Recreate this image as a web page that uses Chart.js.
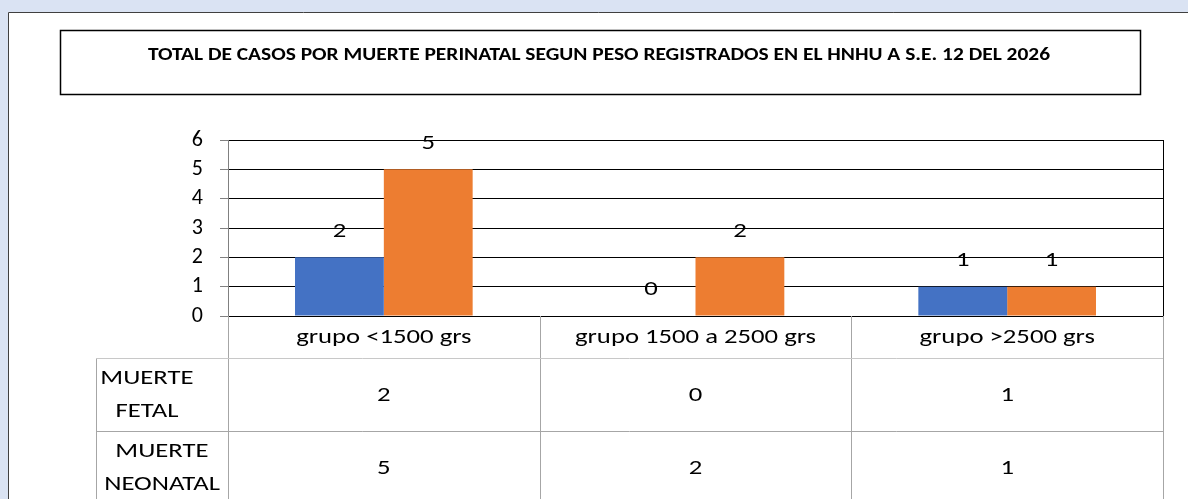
<!DOCTYPE html>
<html lang="es">
<head>
  <meta charset="UTF-8" />
  <title>Muerte perinatal segun peso</title>
  <script src="https://cdn.jsdelivr.net/npm/chart.js"></script>
  <style>
    html, body { margin: 0; padding: 0; background: #dae3f3; }
    #wrap { width: 1188px; height: 499px; }
  </style>
</head>
<body>
  <div id="wrap"><canvas id="chart" width="1188" height="499"></canvas></div>

  <script>
    const titleText = "TOTAL DE CASOS POR MUERTE PERINATAL SEGUN PESO REGISTRADOS EN EL HNHU A S.E. 12 DEL 2026";
    const categories = ["grupo <1500 grs", "grupo 1500 a 2500 grs", "grupo >2500 grs"];
    const seriesNames = [["MUERTE", "FETAL"], ["MUERTE", "NEONATAL"]];
    const muerteFetal = [2, 0, 1];
    const muerteNeonatal = [5, 2, 1];
    const yTicks = [0, 1, 2, 3, 4, 5, 6];

    const FONT = "Carlito, Lato, sans-serif";
    const TITLE_FONT = "bold 18.5px " + FONT;
    const BODY_FONT = "21px " + FONT;

    // the source picture is a bit wider than tall, so text is stretched sideways
    function stretchX(ctx, font, sample, target) {
      ctx.font = font;
      return target / ctx.measureText(sample).width;
    }
    function wideText(ctx, text, x, y, sx) {
      ctx.save();
      ctx.translate(x, y);
      ctx.scale(sx, 1);
      ctx.fillText(text, 0, 0);
      ctx.restore();
    }

    const sheetPlugin = {
      id: "sheet",
      beforeDraw(chart) {
        const ctx = chart.ctx;
        ctx.save();
        ctx.fillStyle = "#dae3f3";
        ctx.fillRect(0, 0, chart.width, chart.height);
        ctx.fillStyle = "#ffffff";
        ctx.fillRect(8, 12, chart.width, chart.height);
        ctx.strokeStyle = "#404040";
        ctx.lineWidth = 1;
        ctx.beginPath();
        ctx.moveTo(8.5, chart.height);
        ctx.lineTo(8.5, 12.5);
        ctx.lineTo(chart.width, 12.5);
        ctx.stroke();

        ctx.strokeStyle = "#000000";
        ctx.lineWidth = 1.5;
        ctx.strokeRect(60.5, 30.5, 1080, 64);
        ctx.fillStyle = "#000000";
        ctx.textAlign = "center";
        ctx.textBaseline = "middle";
        const sx = stretchX(ctx, TITLE_FONT, titleText, 902);
        wideText(ctx, titleText, 599, 55, sx);
        ctx.restore();
      },
      afterDraw(chart) {
        const ctx = chart.ctx;
        const area = chart.chartArea;
        const x = chart.scales.x;
        ctx.save();

        // right border of plot
        ctx.strokeStyle = "#000000";
        ctx.lineWidth = 1;
        ctx.beginPath();
        ctx.moveTo(Math.round(area.right) + 0.5, area.top);
        ctx.lineTo(Math.round(area.right) + 0.5, area.bottom);
        ctx.stroke();

        ctx.fillStyle = "#000000";
        ctx.textAlign = "center";
        ctx.textBaseline = "middle";
        const sx = stretchX(ctx, BODY_FONT, categories[1], 241);

        // value labels above bars
        chart.data.datasets.forEach((ds, di) => {
          chart.getDatasetMeta(di).data.forEach((bar, i) => {
            wideText(ctx, String(ds.data[i]), bar.x, bar.y - 26, sx);
          });
        });

        // data table
        const step = x.getPixelForValue(1) - x.getPixelForValue(0);
        const edges = categories.map((_, i) => x.getPixelForValue(i) - step / 2);
        edges.push(x.getPixelForValue(categories.length - 1) + step / 2);
        const top = area.bottom;
        const r1 = top + 42, r2 = r1 + 73, r3 = r2 + 73;
        const leftCol = 96;

        ctx.strokeStyle = "#a6a6a6";
        ctx.lineWidth = 1;
        ctx.beginPath();
        edges.forEach(e => {
          const ex = Math.round(e) + 0.5;
          ctx.moveTo(ex, top); ctx.lineTo(ex, r3);
        });
        ctx.moveTo(leftCol + 0.5, r1); ctx.lineTo(leftCol + 0.5, r3);
        [r2, r3].forEach(ry => {
          ctx.moveTo(leftCol, ry + 0.5); ctx.lineTo(edges[edges.length - 1], ry + 0.5);
        });
        ctx.stroke();
        ctx.strokeStyle = "#c8c8c8";
        ctx.beginPath();
        ctx.moveTo(leftCol, r1 + 0.5); ctx.lineTo(edges[edges.length - 1], r1 + 0.5);
        ctx.stroke();

        categories.forEach((c, i) => {
          const cx = x.getPixelForValue(i);
          wideText(ctx, c, cx, (top + r1) / 2 + 1, sx);
          wideText(ctx, String(muerteFetal[i]), cx, (r1 + r2) / 2 + 1, sx);
          wideText(ctx, String(muerteNeonatal[i]), cx, (r2 + r3) / 2 + 1, sx);
        });
        const rowCenters = [147, 162];
        [[r1, r2], [r2, r3]].forEach(([a, b], k) => {
          const mid = (a + b) / 2;
          wideText(ctx, seriesNames[k][0], rowCenters[k], mid - 16, sx);
          wideText(ctx, seriesNames[k][1], rowCenters[k], mid + 17, sx);
        });
        ctx.restore();
      }
    };

    new Chart(document.getElementById("chart"), {
      type: "bar",
      data: {
        labels: categories,
        datasets: [
          { label: seriesNames[0].join(" "), data: muerteFetal, backgroundColor: "#4472c4" },
          { label: seriesNames[1].join(" "), data: muerteNeonatal, backgroundColor: "#ed7d31" }
        ]
      },
      options: {
        responsive: false,
        animation: false,
        layout: { padding: { left: 150, right: 25, top: 140, bottom: 183 } },
        datasets: { bar: { categoryPercentage: 0.57, barPercentage: 1.0 } },
        plugins: { legend: { display: false }, title: { display: false }, tooltip: { enabled: false } },
        scales: {
          x: { display: false },
          y: {
            min: yTicks[0], max: yTicks[yTicks.length - 1],
            afterFit: s => { s.width = 78; },
            afterBuildTicks: s => { s.ticks = yTicks.map(v => ({ value: v })); },
            border: { color: "#808080", width: 1 },
            grid: { color: "#000000", lineWidth: 1, tickColor: "#808080", tickLength: 8 },
            ticks: { color: "#000000", font: { family: FONT, size: 22 }, padding: 17, autoSkip: false }
          }
        }
      },
      plugins: [sheetPlugin]
    });
  </script>
</body>
</html>
